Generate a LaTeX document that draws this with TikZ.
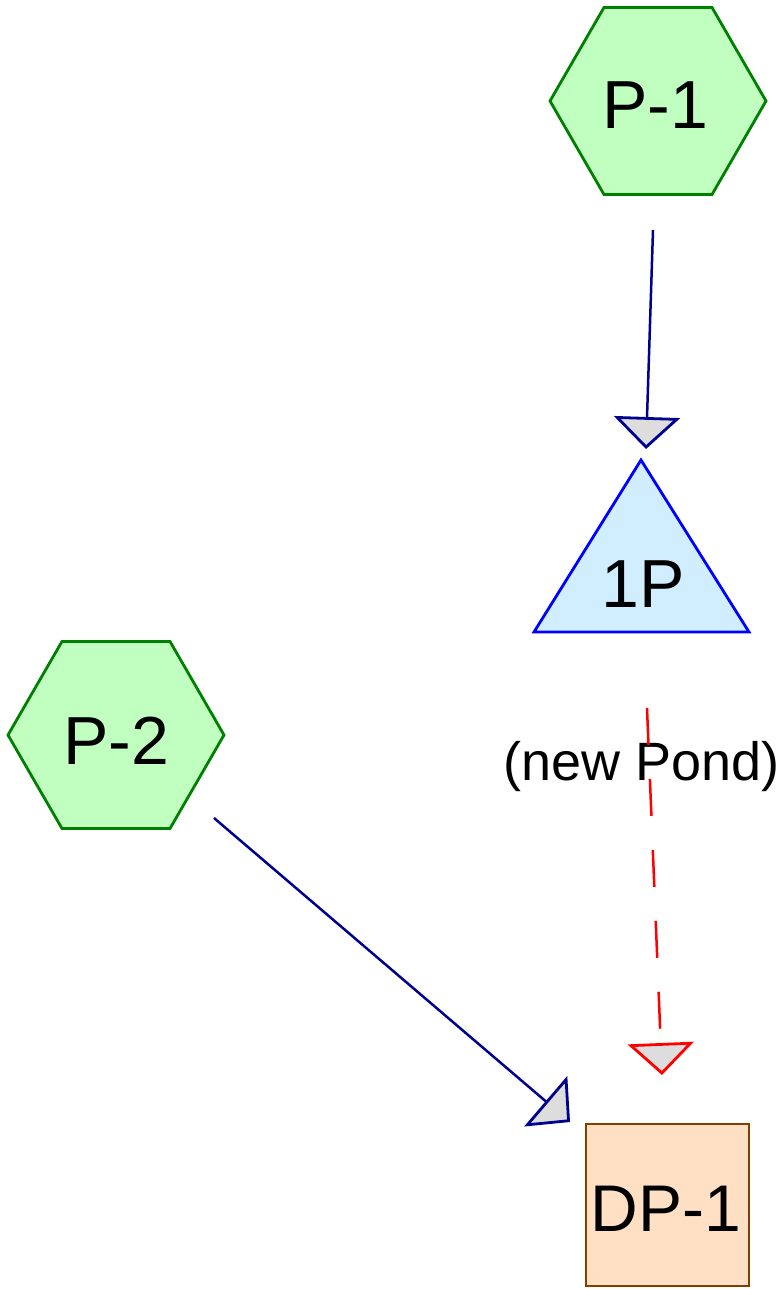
\documentclass[tikz,border=0pt]{standalone}
\usepackage{fontspec}
\setmainfont{Liberation Sans}
\usetikzlibrary{arrows.meta,shapes.geometric}
\definecolor{hexfill}{RGB}{192,255,192}
\definecolor{hexdraw}{RGB}{0,128,0}
\definecolor{trifill}{RGB}{208,238,255}
\definecolor{tridraw}{RGB}{0,0,255}
\definecolor{boxfill}{RGB}{255,224,196}
\definecolor{boxdraw}{RGB}{128,64,0}
\definecolor{navy}{RGB}{0,0,144}
\definecolor{tipfill}{RGB}{221,221,221}
\tikzset{
  hexnode/.style={regular polygon, regular polygon sides=6, minimum size=216pt, inner sep=0pt,
    draw=hexdraw, fill=hexfill, line width=2.8pt},
  boxnode/.style={rectangle, minimum width=163pt, minimum height=162pt, inner sep=0pt,
    draw=boxdraw, fill=boxfill, line width=2.8pt},
  lbl/.style={font=\fontsize{68}{80}\selectfont, anchor=base, inner sep=0pt},
  flow/.style={draw=navy, line width=2.5pt,
    -{Triangle[length=32pt,width=66pt,fill=tipfill,line width=2.8pt]}},
  newflow/.style={draw=red, line width=2.5pt, dash pattern=on 37pt off 34pt,
    -{Triangle[length=32pt,width=66pt,fill=tipfill,line width=2.8pt]}},
}
\begin{document}
\begin{tikzpicture}[x=1pt,y=-1pt]
\useasboundingbox (0,0) rectangle (783,1289);
% shapes
\node[hexnode] (p1) at (658,101) {};
\node[hexnode] (p2) at (116,735) {};
\node[boxnode] (dp1) at (667.5,1205) {};
\coordinate (ta) at (641,460);
\coordinate (tl) at (534,632);
\coordinate (tr) at (749,632);
\draw[draw=tridraw, fill=trifill, line width=2.8pt, line join=miter] (ta) -- (tl) -- (tr) -- cycle;
% labels
\node[lbl] (p1t) at (655,129) {P-1};
\node[lbl] (p2t) at (116,764) {P-2};
\node[lbl] (onept) at (643,607) {1P};
\node[lbl, font=\fontsize{66}{78}\selectfont] (dp1t) at (666,1231) {DP-1};
\node[font=\fontsize{54}{62}\selectfont, anchor=base, inner sep=0pt] (newpond) at (641.5,780) {(new Pond)};
% connector end points
\coordinate (a1s) at (653,230);
\coordinate (a1e) at (646,449);
\coordinate (a2s) at (647,708);
\coordinate (a2e) at (662,1075);
\coordinate (a3s) at (214,818);
\coordinate (a3e) at (570,1122);
\draw[flow] (a1s) -- (a1e);
\draw[newflow] (a2s) -- (a2e);
\draw[flow] (a3s) -- (a3e);
\end{tikzpicture}
\end{document}
